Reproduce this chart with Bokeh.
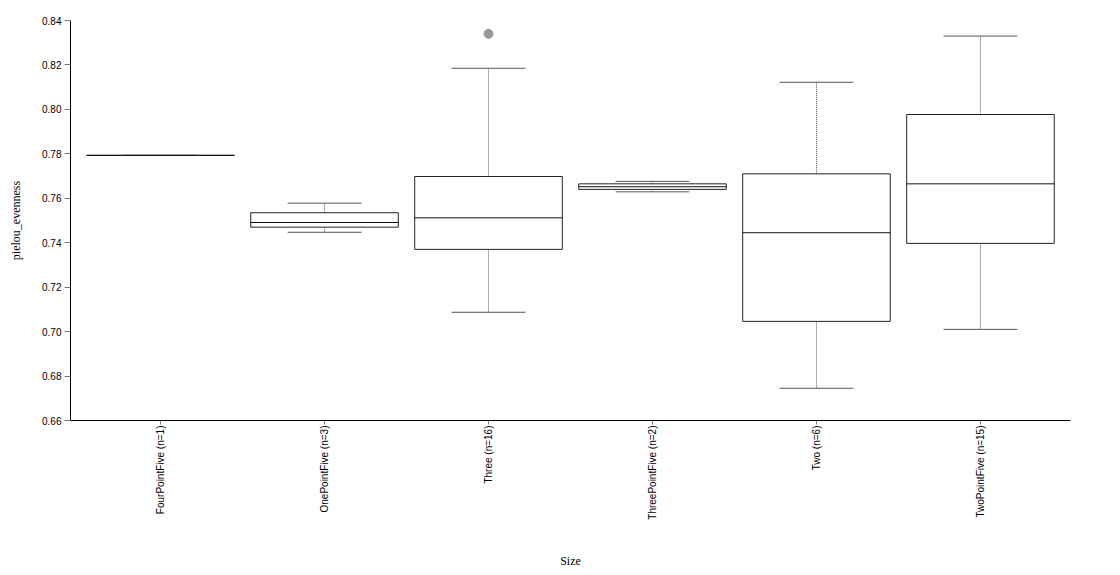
import math
from bokeh.plotting import figure
from bokeh.models import FactorRange, FixedTicker, PrintfTickFormatter, ColumnDataSource
from bokeh.transform import dodge
from bokeh.embed import file_html
from bokeh.resources import INLINE

# ---- data ----
categories = ["FourPointFive", "OnePointFive", "Three", "ThreePointFive", "Two", "TwoPointFive"]
counts = [1, 3, 16, 2, 6, 15]
lower_whisker = [0.7793, 0.7447, 0.7087, 0.7629, 0.6745, 0.7010]
q1 = [0.7793, 0.7470, 0.7370, 0.7640, 0.7046, 0.7397]
median = [0.7793, 0.7491, 0.7512, 0.7652, 0.7445, 0.7665]
q3 = [0.7793, 0.7535, 0.7698, 0.7665, 0.7710, 0.7977]
upper_whisker = [0.7793, 0.7578, 0.8185, 0.7676, 0.8122, 0.8330]
outlier_cats = ["Three"]
outlier_vals = [0.834]
y_ticks = [0.66, 0.68, 0.70, 0.72, 0.74, 0.76, 0.78, 0.80, 0.82, 0.84]

labels = [f"{c} (n={n})" for c, n in zip(categories, counts)]
label_map = dict(zip(categories, labels))

src = ColumnDataSource(dict(
    x=labels, lo=lower_whisker, q1=q1, med=median, q3=q3, hi=upper_whisker,
))
out_src = ColumnDataSource(dict(x=[label_map[c] for c in outlier_cats], y=outlier_vals))

x_range = FactorRange(*labels, range_padding=0.049, range_padding_units="absolute")

p = figure(
    x_range=x_range, y_range=(y_ticks[0], y_ticks[-1]),
    width=1110, height=570,
    output_backend="svg", toolbar_location=None,
    min_border_left=70, min_border_right=40, min_border_top=20, min_border_bottom=150,
)
p.outline_line_color = None
p.xgrid.visible = False
p.ygrid.visible = False

# whiskers
p.segment(x0="x", y0="q3", x1="x", y1="hi", source=src, line_color="#555", line_dash="1 1", line_width=1)
p.segment(x0="x", y0="q1", x1="x", y1="lo", source=src, line_color="#555", line_dash="1 1", line_width=1)
# boxes
p.vbar(x="x", width=0.9, bottom="q1", top="q3", source=src, fill_color="white", line_color="#222", line_width=1)
# caps
p.segment(x0=dodge("x", -0.225, range=x_range), y0="hi", x1=dodge("x", 0.225, range=x_range), y1="hi",
          source=src, line_color="#555", line_width=1)
p.segment(x0=dodge("x", -0.225, range=x_range), y0="lo", x1=dodge("x", 0.225, range=x_range), y1="lo",
          source=src, line_color="#555", line_width=1)
# medians
p.segment(x0=dodge("x", -0.45, range=x_range), y0="med", x1=dodge("x", 0.45, range=x_range), y1="med",
          source=src, line_color="#111", line_width=1)
# outliers
p.scatter(x="x", y="y", source=out_src, size=9, fill_color="#999", line_color="#999")

# y axis
ya = p.yaxis[0]
ya.ticker = FixedTicker(ticks=y_ticks)
ya.formatter = PrintfTickFormatter(format="%.2f")
ya.axis_label = "pielou_evenness"
ya.axis_label_text_font = "Liberation Serif"
ya.axis_label_text_font_size = "12px"
ya.axis_label_text_font_style = "normal"
ya.axis_label_text_color = "#000"
ya.axis_label_standoff = 16
ya.major_label_text_font = "Liberation Sans"
ya.major_label_text_font_size = "10px"
ya.major_label_text_color = "#000"
ya.major_label_standoff = 3
ya.major_tick_out = 6
ya.major_tick_in = 0
ya.minor_tick_out = 0
ya.minor_tick_in = 0
ya.major_tick_line_color = "#777"
ya.axis_line_color = "#000"

# x axis
xa = p.xaxis[0]
xa.axis_label = "Size"
xa.axis_label_text_font = "Liberation Serif"
xa.axis_label_text_font_size = "12px"
xa.axis_label_text_font_style = "normal"
xa.axis_label_text_color = "#000"
xa.axis_label_standoff = 31
xa.major_label_orientation = math.pi / 2
xa.major_label_text_font = "Liberation Sans"
xa.major_label_text_font_size = "10px"
xa.major_label_text_color = "#000"
xa.major_label_standoff = 1
xa.major_tick_out = 4
xa.major_tick_in = 0
xa.major_tick_line_color = "#777"
xa.axis_line_color = "#000"

open("out.html", "w").write(file_html(p, INLINE))
